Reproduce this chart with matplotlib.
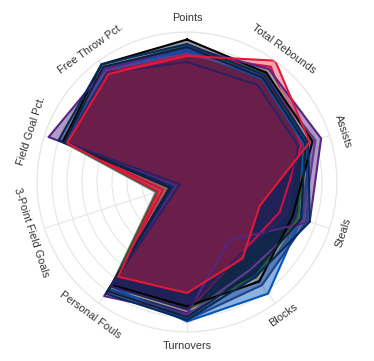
import numpy as np
import matplotlib.pyplot as plt

plt.rcParams['font.family'] = ['Liberation Sans', 'DejaVu Sans']

categories = ['Points', 'Total Rebounds', 'Assists', 'Steals', 'Blocks',
              'Turnovers', 'Personal Fouls', '3-Point Field Goals',
              'Field Goal Pct.', 'Free Throw Pct.']

# one row per team, values scaled 0..1 in the order of categories
team_crimson = [0.85, 0.95, 0.80, 0.65, 0.60, 0.86, 0.85, 0.17, 0.84, 0.90]
team_gray    = [0.93, 0.92, 0.86, 0.78, 0.80, 0.86, 0.87, 0.22, 0.88, 0.95]
team_green   = [0.88, 0.90, 0.82, 0.78, 0.78, 0.85, 0.86, 0.21, 0.86, 0.93]
team_blue    = [0.88, 0.85, 0.82, 0.80, 0.92, 0.93, 0.86, 0.10, 0.86, 0.92]
team_blue2   = [0.89, 0.85, 0.84, 0.84, 0.85, 0.92, 0.88, 0.10, 0.85, 0.94]
team_violet  = [0.86, 0.88, 0.90, 0.82, 0.72, 0.89, 0.90, 0.10, 0.88, 0.92]
team_black   = [0.95, 0.90, 0.88, 0.74, 0.82, 0.83, 0.85, 0.12, 0.87, 0.97]
team_purple  = [0.90, 0.93, 0.94, 0.86, 0.48, 0.88, 0.94, 0.08, 0.97, 0.93]
team_navy    = [0.92, 0.88, 0.85, 0.86, 0.78, 0.92, 0.92, 0.10, 0.90, 0.97]
team_dnavy   = [0.90, 0.86, 0.83, 0.80, 0.75, 0.90, 0.90, 0.12, 0.86, 0.95]
team_plum    = [0.80, 0.80, 0.78, 0.70, 0.60, 0.85, 0.86, 0.05, 0.84, 0.90]
team_red     = [0.84, 1.00, 0.86, 0.51, 0.63, 0.74, 0.78, 0.20, 0.84, 0.89]

teams = [team_crimson, team_gray, team_green, team_blue, team_blue2,
         team_violet, team_black, team_purple, team_navy, team_dnavy,
         team_plum, team_red]
colors = ['#ce1141', '#9a9a9a', '#2f5a2e', '#0057b8', '#1d428a',
          '#5d3e8f', '#000000', '#552583', '#002b5c', '#0c2340',
          '#2e2060', '#e31837']

n = len(categories)
angles = np.linspace(0, 2 * np.pi, n, endpoint=False)
ang_closed = np.append(angles, angles[0])

fig = plt.figure(figsize=(3.74, 3.61), dpi=100)
ax = fig.add_axes([37 / 374, 29 / 361, 300 / 374, 300 / 361], projection='polar')
ax.set_theta_offset(np.pi / 2)
ax.set_theta_direction(-1)
ax.set_ylim(0, 1)

for i, (vals, c) in enumerate(zip(teams, colors)):
    v = np.append(vals, vals[0])
    a = 0.38 if i == len(teams) - 1 else 0.45
    ax.fill(ang_closed, v, color=c, alpha=a, lw=0)
    ax.plot(ang_closed, v, color=c, lw=1.5)

ax.set_rgrids(np.arange(0.1, 1.01, 0.1), labels=[])
ax.set_thetagrids(np.degrees(angles), labels=[])
ax.grid(color='#e6e6e6', lw=0.8)
ax.spines['polar'].set_color('#e6e6e6')
ax.spines['polar'].set_linewidth(0.8)
ax.set_axisbelow(True)

# axis names, turned along the circle
for a, name in zip(angles, categories):
    math_deg = 90 - np.degrees(a)
    if math_deg < -180:
        math_deg += 360
    if 0 <= math_deg <= 180 or math_deg <= -180:
        rot = math_deg - 90
    else:
        rot = math_deg + 90
    if abs(math_deg + 90) < 1:
        rot = 0
    ax.text(a, 1.095, name, rotation=rot, ha='center', va='center',
            rotation_mode='anchor', fontsize=7.8, color='#333333', clip_on=False)

fig.savefig('out.png', dpi=100)
